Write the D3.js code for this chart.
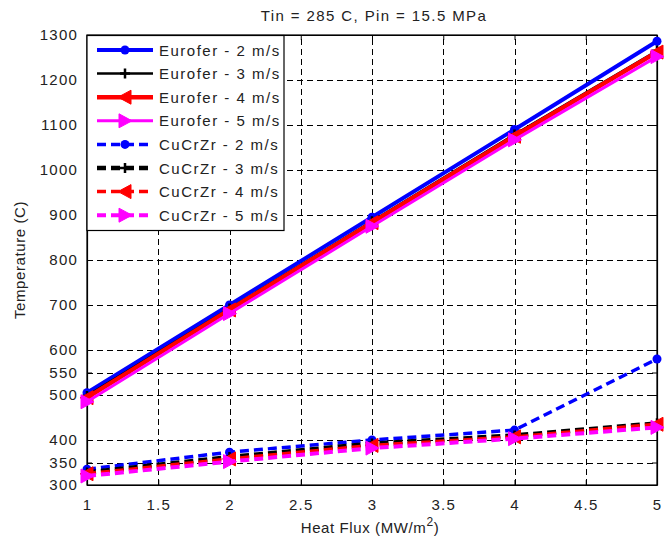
<!DOCTYPE html>
<html>
<head>
<meta charset="utf-8">
<script src="https://cdn.jsdelivr.net/npm/d3@7"></script>
<style>
  body { margin: 0; background: #fff; }
  svg text { font-family: "Liberation Sans", Arial, sans-serif; fill: #222; }
</style>
</head>
<body>
<svg id="chart" width="665" height="541"></svg>
<script>
// heat flux values (MW/m2)
const heatFlux = [1, 2, 3, 4, 5];

// temperatures (C)
const eurofer2 = [505, 700, 895, 1090, 1286];
const eurofer3 = [498, 692, 886, 1079, 1265];
const eurofer4 = [494, 689, 883, 1075, 1262];
const eurofer5 = [485, 681, 875, 1067, 1252];
const cucrzr2 = [335, 373, 400, 422, 580];
const cucrzr3 = [328, 362, 392, 410, 437];
const cucrzr4 = [325, 358, 388, 407, 435];
const cucrzr5 = [320, 352, 382, 403, 428];

const seriesNames = [
  'Eurofer - 2 m/s', 'Eurofer - 3 m/s', 'Eurofer - 4 m/s', 'Eurofer - 5 m/s',
  'CuCrZr - 2 m/s', 'CuCrZr - 3 m/s', 'CuCrZr - 4 m/s', 'CuCrZr - 5 m/s'
];
const seriesValues = [eurofer2, eurofer3, eurofer4, eurofer5, cucrzr2, cucrzr3, cucrzr4, cucrzr5];

const xTicks = [1, 1.5, 2, 2.5, 3, 3.5, 4, 4.5, 5];
const yTicks = [300, 350, 400, 500, 550, 600, 700, 800, 900, 1000, 1100, 1200, 1300];

// styling per series
const colors = ['#0000ff', '#000000', '#ff0000', '#ff00ff', '#0000ff', '#000000', '#ff0000', '#ff00ff'];
const widths = [4, 2.5, 4.5, 3, 3.5, 4.5, 3.5, 4];
const markers = ['circle', 'plus', 'left', 'right', 'circle', 'plus', 'left', 'right'];

const series = seriesNames.map((name, i) => ({
  name,
  values: seriesValues[i].map((v, j) => ({ x: heatFlux[j], y: v })),
  color: colors[i],
  width: widths[i],
  dashed: i >= 4,
  marker: markers[i]
}));

const svg = d3.select('#chart');
const margin = { left: 87, right: 8, top: 35, bottom: 56 };
const W = 665, H = 541;

const x = d3.scaleLinear().domain([1, 5]).range([margin.left, W - margin.right]);
const y = d3.scaleLinear().domain([300, 1300]).range([H - margin.bottom, margin.top]);
const px = v => Math.round(v) + 0.5;

// grid
const grid = svg.append('g').attr('shape-rendering', 'crispEdges');
grid.selectAll('.gx').data(xTicks.slice(1, -1)).join('line')
  .attr('x1', d => px(x(d))).attr('x2', d => px(x(d)))
  .attr('y1', y(300)).attr('y2', y(1300))
  .attr('stroke', '#000').attr('stroke-width', 1).attr('stroke-dasharray', '6,4');
grid.selectAll('.gy').data(yTicks.slice(1, -1)).join('line')
  .attr('x1', x(1)).attr('x2', x(5))
  .attr('y1', d => px(y(d))).attr('y2', d => px(y(d)))
  .attr('stroke', '#000').attr('stroke-width', 1).attr('stroke-dasharray', '6,4');

// axes with inward ticks
const xAxis = svg.append('g')
  .attr('transform', `translate(0,${y(300)})`)
  .call(d3.axisBottom(x).tickValues(xTicks).tickFormat(d3.format('')).tickSizeInner(-5).tickSizeOuter(0).tickPadding(14));
const yAxis = svg.append('g')
  .attr('transform', `translate(${x(1)},0)`)
  .call(d3.axisLeft(y).tickValues(yTicks).tickFormat(d3.format('d')).tickSizeInner(-5).tickSizeOuter(0).tickPadding(9));
svg.append('g')
  .attr('transform', `translate(0,${y(1300)})`)
  .call(d3.axisTop(x).tickValues(xTicks).tickFormat('').tickSizeInner(-5).tickSizeOuter(0));
svg.append('g')
  .attr('transform', `translate(${x(5)},0)`)
  .call(d3.axisRight(y).tickValues(yTicks).tickFormat('').tickSizeInner(-5).tickSizeOuter(0));

svg.selectAll('.domain').attr('stroke', '#000').attr('stroke-width', 1.2);
svg.selectAll('.tick line').attr('stroke', '#000');
[xAxis, yAxis].forEach(a => a.selectAll('text')
  .attr('font-size', 15).style('letter-spacing', '1.2px').attr('fill', '#222'));

// border
svg.append('rect')
  .attr('x', x(1)).attr('y', y(1300))
  .attr('width', x(5) - x(1)).attr('height', y(300) - y(1300))
  .attr('fill', 'none').attr('stroke', '#000').attr('stroke-width', 1.2);

// marker drawing helper
const drawMarker = (g, type, cx, cy, color) => {
  if (type === 'circle') {
    g.append('circle').attr('cx', cx).attr('cy', cy).attr('r', 4.5).attr('fill', color);
  } else if (type === 'plus') {
    g.append('path').attr('d', `M${cx - 5},${cy}H${cx + 5}M${cx},${cy - 5}V${cy + 5}`)
      .attr('stroke', color).attr('stroke-width', 2.5).attr('fill', 'none');
  } else if (type === 'left') {
    g.append('path').attr('d', `M${cx - 7},${cy}L${cx + 6},${cy - 7}L${cx + 6},${cy + 7}Z`)
      .attr('fill', color).attr('stroke', color).attr('stroke-width', 1);
  } else {
    g.append('path').attr('d', `M${cx + 7},${cy}L${cx - 6},${cy - 7}L${cx - 6},${cy + 7}Z`)
      .attr('fill', color).attr('stroke', color).attr('stroke-width', 1);
  }
};

const line = d3.line().x(d => x(d.x)).y(d => y(d.y));

// lines + markers
series.forEach(s => {
  const g = svg.append('g');
  g.append('path')
    .attr('d', line(s.values))
    .attr('fill', 'none')
    .attr('stroke', s.color)
    .attr('stroke-width', s.width)
    .attr('stroke-dasharray', s.dashed ? '9,5' : null);
  s.values.forEach(d => drawMarker(g, s.marker, x(d.x), y(d.y), s.color));
});

// title
svg.append('text')
  .attr('x', 374).attr('y', 21)
  .attr('text-anchor', 'middle')
  .attr('font-size', 15).style('letter-spacing', '1.4px')
  .text('Tin = 285 C, Pin = 15.5 MPa');

// axis labels
const xl = svg.append('text')
  .attr('x', 370).attr('y', 533)
  .attr('text-anchor', 'middle')
  .attr('font-size', 15).style('letter-spacing', '0.6px');
xl.append('tspan').text('Heat Flux (MW/m');
xl.append('tspan').attr('dy', -7).attr('font-size', 12).text('2');
xl.append('tspan').attr('dy', 7).text(')');

svg.append('text')
  .attr('transform', 'translate(25,260) rotate(-90)')
  .attr('text-anchor', 'middle')
  .attr('font-size', 15).style('letter-spacing', '0.6px')
  .text('Temperature (C)');

// legend
const legend = svg.append('g');
legend.append('rect')
  .attr('x', 87).attr('y', 35.5).attr('width', 197).attr('height', 195)
  .attr('fill', '#fff').attr('stroke', '#000').attr('stroke-width', 1.2);
series.forEach((s, i) => {
  const ly = 50 + i * 23.6;
  const g = legend.append('g');
  g.append('line')
    .attr('x1', 97).attr('x2', 153).attr('y1', ly).attr('y2', ly)
    .attr('stroke', s.color).attr('stroke-width', s.width)
    .attr('stroke-dasharray', s.dashed ? '9,5' : null);
  drawMarker(g, s.marker, 125, ly, s.color);
  g.append('text')
    .attr('x', 159).attr('y', ly + 5.5)
    .attr('font-size', 15).style('letter-spacing', '1.5px')
    .text(s.name);
});
</script>
</body>
</html>
